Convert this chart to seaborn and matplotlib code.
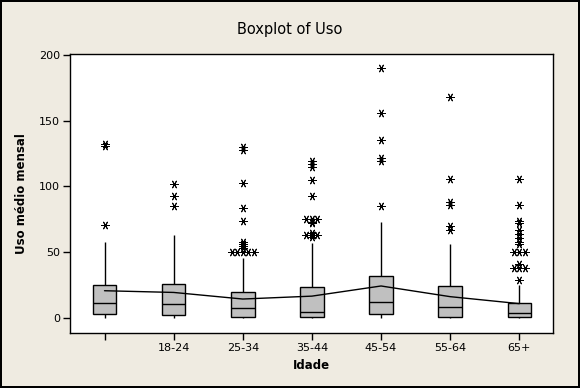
import numpy as np
import pandas as pd
import matplotlib
matplotlib.use("Agg")
import matplotlib.pyplot as plt
import seaborn as sns

# ---- data ----
groups = ["NA", "18-24", "25-34", "35-44", "45-54", "55-64", "65+"]
tick_labels = ["", "18-24", "25-34", "35-44", "45-54", "55-64", "65+"]
whislo = [0.0, 0.0, 0.0, 0.0, 0.5, 0.0, 0.0]
q1 = [3.5, 2.3, 1.3, 1.3, 3.6, 1.3, 1.3]
median = [11.8, 11.1, 7.8, 5.1, 12.0, 8.6, 4.3]
q3 = [25.4, 26.3, 20.2, 23.9, 32.3, 24.7, 11.8]
whishi = [57.6, 62.9, 46.0, 57.1, 73.4, 56.1, 25.5]
means = [20.9, 19.6, 14.6, 16.8, 24.5, 16.4, 11.1]
outliers = {
    "NA": [132, 131, 71],
    "18-24": [102, 93, 85],
    "25-34": [130, 128, 103, 84, 74, 58, 56, 55, 53, 50, 50, 50, 50, 50],
    "35-44": [119, 117, 115, 105, 93, 75, 75, 75, 73, 72, 65, 63, 63, 63, 62],
    "45-54": [190, 156, 135, 122, 119, 85],
    "55-64": [168, 106, 88, 86, 70, 67],
    "65+": [106, 86, 74, 72, 67, 64, 61, 58, 56, 50, 50, 50, 41, 38, 38, 38, 29],
}

BG = "#EFEBE1"

sns.set_style("white")
plt.rcParams["font.family"] = ["DejaVu Sans"]
plt.rcParams["text.color"] = "black"
plt.rcParams["axes.labelcolor"] = "black"
plt.rcParams["xtick.color"] = "black"
plt.rcParams["ytick.color"] = "black"

fig = plt.figure(figsize=(5.8, 3.88), dpi=100, facecolor=BG)
fig.patch.set_edgecolor("black")
fig.patch.set_linewidth(1.5)
ax = fig.add_axes([0.12, 0.141, 0.8326, 0.719])
ax.set_facecolor("white")

# boxes from five-number summaries
rows = []
for g, a, b, c, d, e in zip(groups, whislo, q1, median, q3, whishi):
    for v in (a, b, c, d, e):
        rows.append({"grp": g, "val": v})
box_df = pd.DataFrame(rows)

sns.boxplot(data=box_df, x="grp", y="val", order=groups, whis=(0, 100),
            width=0.34, color="#C0C0C0", linecolor="black", linewidth=1,
            showfliers=False, saturation=1,
            capprops={"linewidth": 0}, ax=ax, zorder=2)

# outliers, ties spread horizontally
ox, oy = [], []
for i, g in enumerate(groups):
    vals = outliers[g]
    uniq = {}
    for v in vals:
        uniq[v] = uniq.get(v, 0) + 1
    for v, n in uniq.items():
        for k in range(n):
            ox.append(i + (k - (n - 1) / 2) * 0.08)
            oy.append(v)
out_df = pd.DataFrame({"x": ox, "y": oy})
sns.scatterplot(data=out_df, x="x", y="y", marker=(6, 2, 90), s=30,
                color="black", linewidth=0.7, ax=ax, zorder=4)

# mean connect line
mean_df = pd.DataFrame({"x": np.arange(len(groups)), "y": means})
sns.lineplot(data=mean_df, x="x", y="y", color="black", linewidth=1,
             ax=ax, zorder=3)

ax.set_xlim(-0.505, 6.48)
ax.set_ylim(-11.4, 200.3)
ax.set_yticks([0, 50, 100, 150, 200])
ax.set_xticks(range(len(groups)))
ax.set_xticklabels(tick_labels)
ax.tick_params(axis="both", direction="out", length=5, width=1,
               color="black", labelcolor="black", labelsize=8, pad=2,
               left=True, bottom=True)
for s in ax.spines.values():
    s.set_color("black")
    s.set_linewidth(1)

ax.set_xlabel("Idade", fontsize=8.5, fontweight="bold", labelpad=4, color="black")
ax.set_ylabel("Uso médio mensal", fontsize=8.5, fontweight="bold", labelpad=8, color="black")
fig.text(0.5, 0.925, "Boxplot of Uso", ha="center", va="center", fontsize=10.5,
         color="black")

fig.savefig("out.png", dpi=100, facecolor=BG, edgecolor="black")
